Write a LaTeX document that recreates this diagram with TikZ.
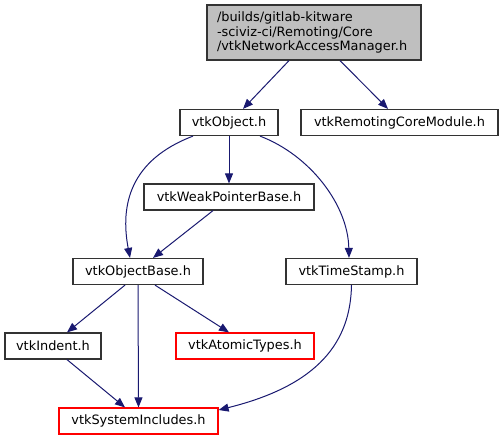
\documentclass[tikz,border=0pt]{standalone}
\usepackage{fontspec}
\setmainfont{DejaVu Sans}
\usetikzlibrary{arrows.meta}
\definecolor{edgeblue}{HTML}{191970}
\definecolor{boxgray}{HTML}{BFBFBF}
\definecolor{boxline}{HTML}{333333}
\begin{document}
\begin{tikzpicture}[x=1pt,y=-1pt,
  every node/.style={font=\fontsize{12.9}{14.5}\selectfont, inner sep=0pt, anchor=center},
  filebox/.style={draw=boxline, line width=1.2pt, fill=white, minimum height=26pt},
  redbox/.style={filebox, draw=red},
  edge/.style={draw=edgeblue, line width=1pt, -{Triangle[length=10pt,width=8pt]}}
]
\useasboundingbox (0,0) rectangle (503,440);
\node[filebox, fill=boxgray, minimum width=214pt, minimum height=55pt, text width=194pt, align=left] (top) at (314,32.5)
  {/builds/gitlab-kitware\\-sciviz-ci/Remoting/Core\\/vtkNetworkAccessManager.h};
\node[filebox, minimum width=98pt] (obj) at (229,122.5) {vtkObject.h};
\node[filebox, minimum width=197pt] (rem) at (399.5,122.5) {vtkRemotingCoreModule.h};
\node[filebox, minimum width=170pt] (weak) at (229,197) {vtkWeakPointerBase.h};
\node[filebox, minimum width=130pt] (base) at (138,271.5) {vtkObjectBase.h};
\node[filebox, minimum width=131pt] (ts) at (351.5,271.5) {vtkTimeStamp.h};
\node[filebox, minimum width=96pt] (ind) at (53,346) {vtkIndent.h};
\node[redbox, minimum width=138pt] (atom) at (245,346) {vtkAtomicTypes.h};
\node[redbox, minimum width=159pt] (sys) at (138.5,421) {vtkSystemIncludes.h};

\draw[edge] ([xshift=-25pt]top.south) -- ([xshift=14pt]obj.north);
\draw[edge] ([xshift=26pt]top.south) -- ([xshift=-11.5pt]rem.north);
\draw[edge] ([xshift=-36pt]obj.south) .. controls +(-63,24) and +(-10,-53) .. ([xshift=-8pt]base.north);
\draw[edge] (obj.south) -- (weak.north);
\draw[edge] ([xshift=31pt]obj.south) .. controls +(50,19) and +(-1,-53) .. ([xshift=-2.5pt]ts.north);
\draw[edge] ([xshift=-16pt]weak.south) -- ([xshift=15pt]base.north);
\draw[edge] ([xshift=-13pt]base.south) -- ([xshift=14pt]ind.north);
\draw[edge] (base.south) -- (sys.north);
\draw[edge] ([xshift=17pt]base.south) -- ([xshift=-16pt]atom.north);
\draw[edge] ([xshift=14pt]ind.south) -- ([xshift=-13.5pt]sys.north);
\draw[edge] (ts.south) .. controls +(-1,56) and +(101,-25) .. ([yshift=11pt]sys.east);
\end{tikzpicture}
\end{document}
